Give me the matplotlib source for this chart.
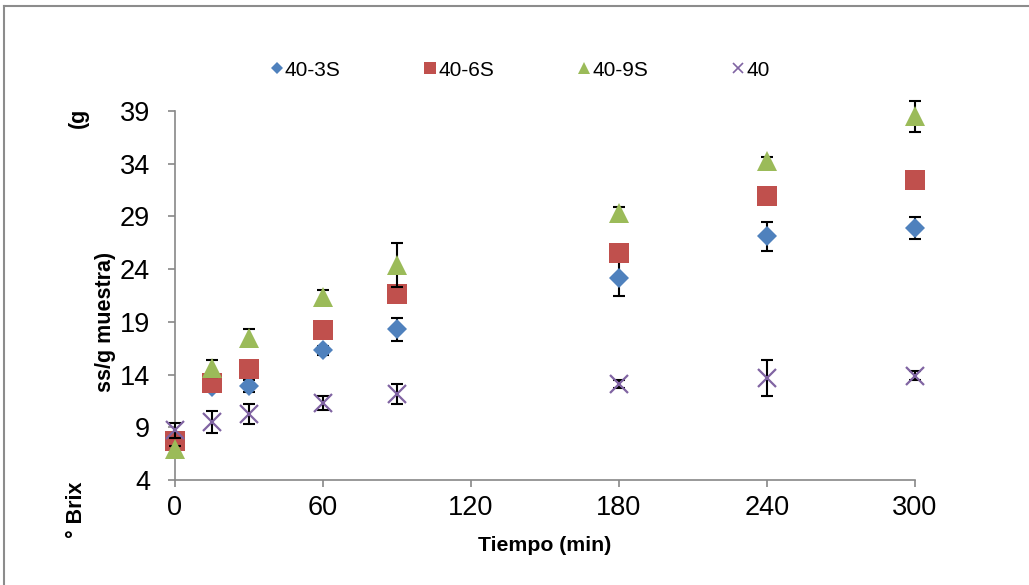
import matplotlib.pyplot as plt
from matplotlib.lines import Line2D

# tiempo de muestreo (min)
tiempo = [0, 15, 30, 60, 90, 180, 240, 300]

# ° Brix (g ss/g muestra) y desviaciones
s3 = [7.6, 12.8, 12.9, 16.3, 18.3, 23.2, 27.1, 27.9]
e3 = [0.3, 0.4, 0.6, 0.4, 1.1, 1.7, 1.4, 1.05]
s6 = [7.7, 13.2, 14.5, 18.2, 21.6, 25.5, 30.9, 32.5]
e6 = [0.3, 0.3, 0.3, 0.3, 0.3, 0.4, 0.3, 0.3]
s9 = [6.9, 14.6, 17.5, 21.4, 24.4, 29.3, 34.3, 38.5]
e9 = [0.3, 0.8, 0.8, 0.6, 2.1, 0.6, 0.3, 1.45]
s40 = [8.7, 9.5, 10.3, 11.3, 12.2, 13.1, 13.7, 13.9]
e40 = [0.7, 1.0, 0.95, 0.7, 0.95, 0.4, 1.7, 0.4]

series = [
   ("40-3S", s3, e3, "D", "#4F81BD", 10.5),
   ("40-6S", s6, e6, "s", "#C0504D", 14),
   ("40-9S", s9, e9, "^", "#9BBB59", 14.5),
   ("40", s40, e40, "x", "#8064A2", 13),
]

plt.rcParams['font.family'] = ['Liberation Sans', 'DejaVu Sans']

fig = plt.figure(figsize=(10.29, 5.85), dpi=100)
ax = fig.add_axes([175/1029, 105/585, 740/1029, 369/585])

handles = []
for i, (name, vals, err, mk, col, ms) in enumerate(series):
   eb = ax.errorbar(tiempo, vals, yerr=err, fmt='none', ecolor='black',
                    elinewidth=1.5, capsize=4.3, capthick=1.5, zorder=2 + 2*i)
   for art in eb.lines[1] + eb.lines[2]:
      art.set_clip_on(False)
   ax.plot(tiempo, vals, linestyle='none', marker=mk, color=col, clip_on=False,
           markersize=ms, markeredgewidth=1.6 if mk == 'x' else 0, zorder=3 + 2*i)
   handles.append(Line2D([], [], linestyle='none', marker=mk, color=col,
                         markersize=ms*0.58, markeredgewidth=1.2 if mk == 'x' else 0, label=name))

ax.set_xlim(0, 300)
ax.set_ylim(4, 39)
ax.set_xticks([0, 60, 120, 180, 240, 300])
ax.set_yticks([4, 9, 14, 19, 24, 29, 34, 39])
ax.tick_params(labelsize=19.5, color='#888888', length=5, width=1.2, direction='out')
ax.tick_params(axis='x', pad=6)
ax.tick_params(axis='y', pad=13)
for side in ['top', 'right']:
   ax.spines[side].set_visible(False)
for side in ['left', 'bottom']:
   ax.spines[side].set_color('#888888')
   ax.spines[side].set_linewidth(1.2)

fig.text(545/1029, 1 - 551/585, 'Tiempo (min)', fontsize=15.3, fontweight='bold', ha='center', va='baseline')

# etiqueta del eje y repartida en tres piezas
fig.text(78/1029, 1 - 118/585, '(g', rotation=90, fontsize=15.5, fontweight='bold', ha='center', va='center')
fig.text(106/1029, 1 - 322/585, 'ss/g muestra)', rotation=90, fontsize=15.5, fontweight='bold', ha='center', va='center')
fig.text(77/1029, 1 - 510/585, '° Brix', rotation=90, fontsize=15.5, fontweight='bold', ha='center', va='center')

fig.legend(handles=handles, loc='center', bbox_to_anchor=(520/1029, 1 - 70/585), ncol=4,
           frameon=False, fontsize=15, handlelength=0.6, handletextpad=0.1, columnspacing=4.0)

# marco del grafico
fig.add_artist(Line2D([4/1029, 1], [1 - 6/585, 1 - 6/585], transform=fig.transFigure, color='#8c8c8c', linewidth=1.5))
fig.add_artist(Line2D([4/1029, 4/1029], [0, 1 - 6/585], transform=fig.transFigure, color='#8c8c8c', linewidth=1.5))

plt.savefig('out.png', dpi=100)
